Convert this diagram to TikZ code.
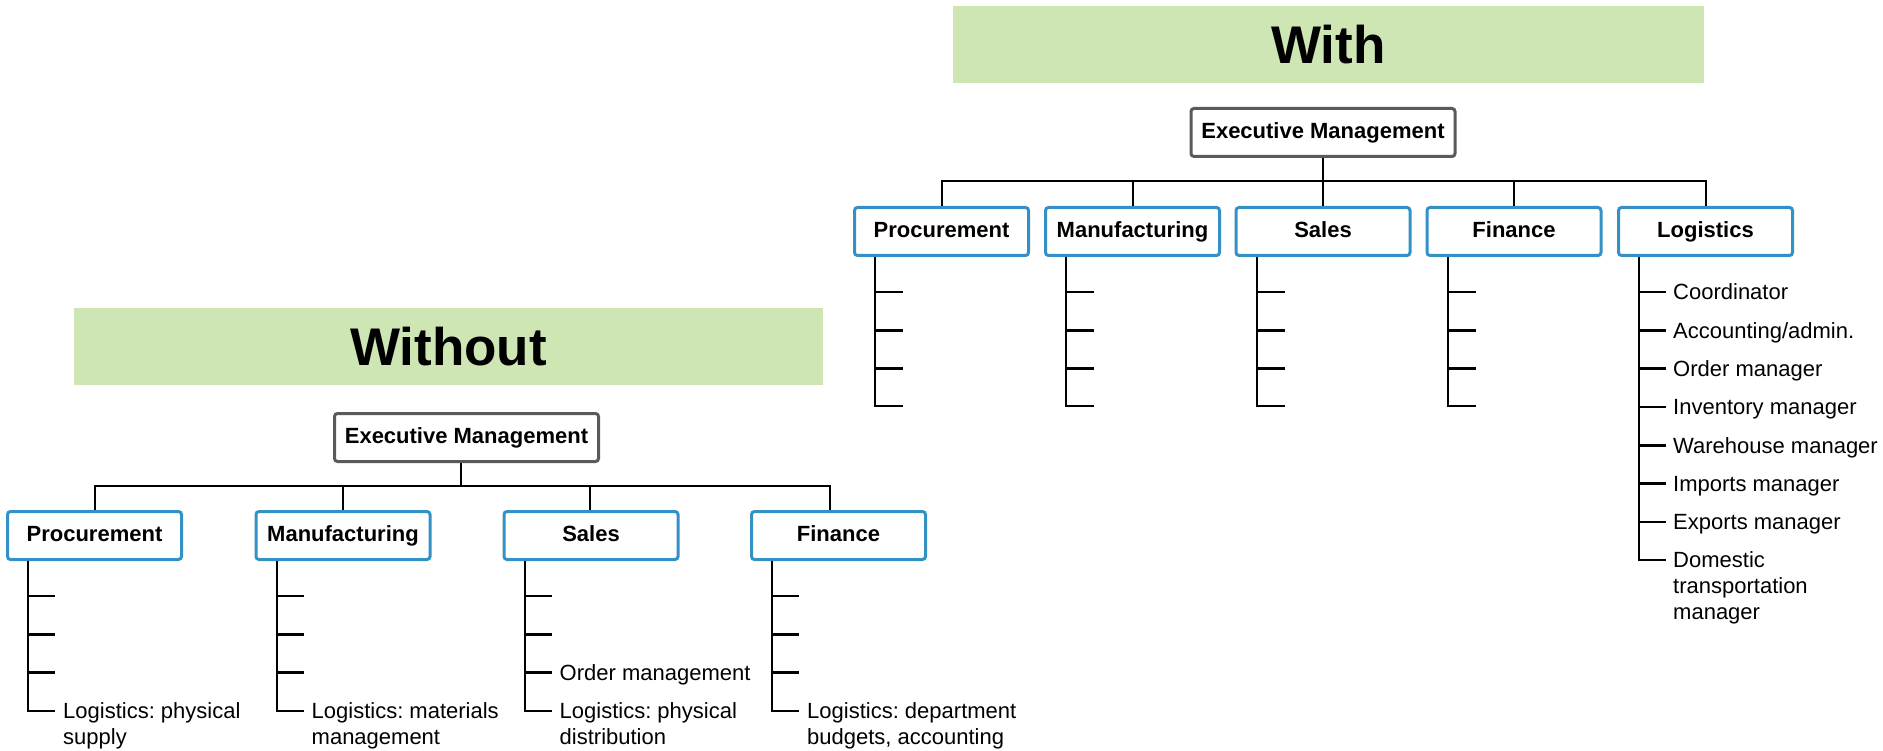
\documentclass[tikz,border=0pt]{standalone}
\usepackage{fontspec}
\setmainfont{Liberation Sans}
\usetikzlibrary{calc}
\frenchspacing
\definecolor{bannergreen}{RGB}{205,230,179}
\definecolor{boxblue}{RGB}{51,145,198}
\definecolor{boxgray}{RGB}{90,90,90}
\tikzset{
  banner/.style={fill=bannergreen, draw=none, inner sep=0pt, minimum height=77pt, font=\fontsize{53}{60}\selectfont\bfseries},
  execbox/.style={draw=boxgray, line width=3pt, rounded corners=3pt, minimum width=264pt, minimum height=48pt, fill=white, inner sep=0pt, text height=16pt, text depth=4pt, font=\fontsize{22}{26}\selectfont\bfseries},
  deptbox/.style={draw=boxblue, line width=3pt, rounded corners=3pt, minimum width=174pt, minimum height=48pt, fill=white, inner sep=0pt, text height=16pt, text depth=4pt, font=\fontsize{22}{26}\selectfont\bfseries},
  conn/.style={line width=2pt, black},
  tick/.style={line width=2.6pt, black},
  item/.style={inner sep=0pt, font=\fontsize{22}{26}\selectfont, align=left, anchor=base west},
  itemtwo/.style={inner sep=0pt, font=\fontsize{22}{26}\selectfont, align=left, anchor=north west},
}
\begin{document}
\begin{tikzpicture}[x=1pt, y=-1pt]
\useasboundingbox (0,0) rectangle (1883,751);

% ===== WITH =====
\node[banner, minimum width=751pt] (withbanner) at (1328.5,44.5) {With};
\node[execbox] (wexec) at (1323,132.5) {Executive Management};
\coordinate (wbus) at (1323,181);
\foreach \n/\x/\t in {wproc/941.5/Procurement, wmanu/1132.5/Manufacturing, wsales/1323/Sales, wfin/1514/Finance, wlog/1705.5/Logistics}{
  \node[deptbox] (\n) at (\x,231.5) {\t};
  \draw[conn] (wexec.south) -- (wexec.south |- wbus) -| (\n.north);
}
\foreach \n in {wproc, wmanu, wsales, wfin}{
  \draw[conn] ($(\n.south west)+(22,0)$) coordinate (\n trunk) -- (\n trunk |- 0,406);
  \draw[tick] (\n trunk |- 0,406) ++(-1,0) -- ++(29,0);
  \foreach \y in {292,330.3,368.6}{
    \draw[tick] (\n trunk |- 0,\y) -- ++(28,0);
  }
}
% Logistics items
\draw[conn] ($(wlog.south west)+(22,0)$) coordinate (wlogtrunk) -- (wlogtrunk |- 0,560.1);
\foreach \y/\t in {292/Coordinator, 330.3/Accounting\slash admin., 368.6/Order manager, 406.9/Inventory manager, 445.2/Warehouse manager, 483.5/Imports manager, 521.8/Exports manager}{
  \draw[tick] (wlogtrunk |- 0,\y) -- ++(27,0) coordinate (wtk);
  \node[item] at ($(wtk)+(7,7.8)$) {\t};
}
\draw[tick] (wlogtrunk |- 0,560.1) ++(-1,0) -- ++(28,0) coordinate (wtkl);
\node[itemtwo] (wdom) at ($(wtkl)+(7,-8.4)$) {Domestic\\transportation\\manager};

% ===== WITHOUT =====
\node[banner, minimum width=749pt] (wobanner) at (448.5,346.5) {Without};
\node[execbox] (woexec) at (466.5,437.5) {Executive Management};
\coordinate (wobus) at (461,486);
\coordinate (woexecout) at ($(woexec.south)+(-5.5,0)$);
\foreach \n/\x/\cx/\t in {woproc/94.5/95/Procurement, womanu/343/343/Manufacturing, wosales/591/590/Sales, wofin/838.5/830/Finance}{
  \node[deptbox] (\n) at (\x,535.5) {\t};
  \coordinate (\n in) at (\cx,510);
  \draw[conn] (woexecout) -- (woexecout |- wobus) -| (\n in);
}
\foreach \n/\ta/\tb in {woproc/Logistics: physical/supply, womanu/Logistics: materials/management, wosales/Logistics: physical/distribution, wofin/Logistics: department/{budgets, accounting}}{
  \draw[conn] ($(\n.south west)+(22,0)$) coordinate (\n trunk) -- (\n trunk |- 0,710.9);
  \draw[tick] (\n trunk |- 0,710.9) ++(-1,0) -- ++(28,0) coordinate (\n last);
  \node[itemtwo] at ($(\n last)+(8,-8.4)$) {\ta\\\tb};
  \foreach \y in {596,634.3,672.6}{
    \draw[tick] (\n trunk |- 0,\y) -- ++(27,0);
  }
}
\path ($(wosales.south west)+(22,0)$) coordinate (wosalestrunk);
\node[item] (woorder) at ($(wosalestrunk |- 0,672.6)+(35,7.8)$) {Order management};
\end{tikzpicture}
\end{document}
